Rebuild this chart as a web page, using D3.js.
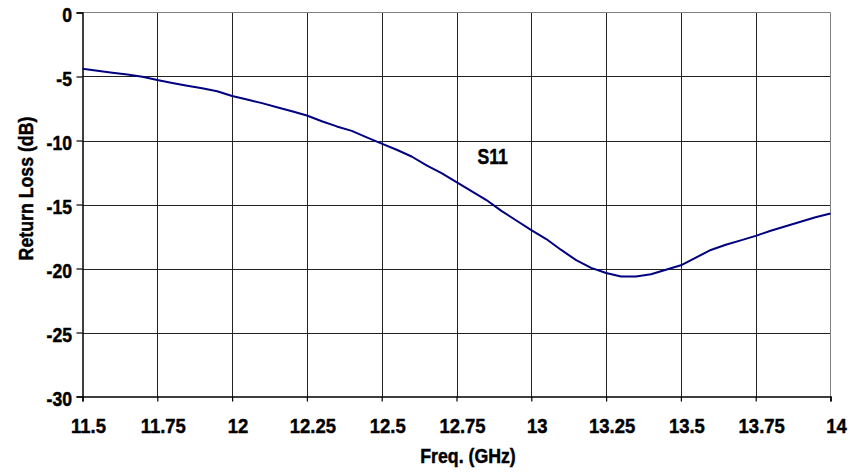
<!DOCTYPE html>
<html>
<head>
<meta charset="utf-8">
<script src="https://cdn.jsdelivr.net/npm/d3@7"></script>
<style>
  html, body { margin: 0; padding: 0; background: #fff; }
  svg { display: block; }
  text { font-family: "Liberation Sans", Arial, sans-serif; font-weight: bold; fill: #000; stroke: #000; stroke-width: 0.45px; }
</style>
</head>
<body>
<svg id="chart" width="853" height="473"></svg>
<script>
// ---- data ----
const freqGHz = [11.50, 11.55, 11.60, 11.65, 11.70, 11.75, 11.80, 11.85, 11.90, 11.95,
                 12.00, 12.05, 12.10, 12.15, 12.20, 12.25, 12.30, 12.35, 12.40, 12.45,
                 12.50, 12.55, 12.60, 12.65, 12.70, 12.75, 12.80, 12.85, 12.90, 12.95,
                 13.00, 13.05, 13.10, 13.15, 13.20, 13.25, 13.30, 13.35, 13.40, 13.45,
                 13.50, 13.55, 13.60, 13.65, 13.70, 13.75, 13.80, 13.85, 13.90, 13.95, 14.00];
const s11dB = [-4.40, -4.55, -4.70, -4.85, -5.02, -5.28, -5.50, -5.72, -5.92, -6.15,
               -6.52, -6.80, -7.08, -7.40, -7.72, -8.05, -8.50, -8.90, -9.25, -9.75,
               -10.25, -10.72, -11.25, -11.95, -12.55, -13.25, -13.95, -14.65, -15.50, -16.25,
               -17.00, -17.70, -18.55, -19.35, -19.95, -20.35, -20.62, -20.62, -20.45, -20.10,
               -19.75, -19.15, -18.55, -18.15, -17.80, -17.45, -17.05, -16.70, -16.35, -16.00, -15.70];
const xTicks = [11.5, 11.75, 12, 12.25, 12.5, 12.75, 13, 13.25, 13.5, 13.75, 14];
const xTickLabels = ["11.5", "11.75", "12", "12.25", "12.5", "12.75", "13", "13.25", "13.5", "13.75", "14"];
const yTicks = [0, -5, -10, -15, -20, -25, -30];
const yTickLabels = ["0", "-5", "-10", "-15", "-20", "-25", "-30"];
const seriesLabel = "S11";
const xTitle = "Freq. (GHz)";
const yTitle = "Return Loss (dB)";

// ---- layout ----
const svg = d3.select("#chart");
const L = 82.5, R = 830.5, T = 12.5, B = 396.5;
const x = d3.scaleLinear().domain([11.5, 14]).range([L, R]);
const y = d3.scaleLinear().domain([-30, 0]).range([B, T]);

// grid
const g = svg.append("g");
g.selectAll("line.vg").data(xTicks.slice(1, -1)).enter().append("line")
  .attr("x1", d => Math.round(x(d)) + 0.5).attr("x2", d => Math.round(x(d)) + 0.5)
  .attr("y1", T).attr("y2", B).attr("stroke", "#222").attr("stroke-width", 1);
g.selectAll("line.hg").data(yTicks.slice(1, -1)).enter().append("line")
  .attr("y1", d => Math.round(y(d)) + 0.5).attr("y2", d => Math.round(y(d)) + 0.5)
  .attr("x1", L).attr("x2", R).attr("stroke", "#222").attr("stroke-width", 1);
g.append("line").attr("x1", L).attr("x2", R).attr("y1", T).attr("y2", T).attr("stroke", "#808080");
g.append("line").attr("x1", R).attr("x2", R).attr("y1", T).attr("y2", B).attr("stroke", "#808080");

// axes (lines + ticks)
const xAxis = d3.axisBottom(x).tickValues(xTicks).tickFormat("").tickSize(5);
const yAxis = d3.axisLeft(y).tickValues(yTicks).tickFormat("").tickSize(6);
const gx = svg.append("g").attr("transform", `translate(0,${B})`).call(xAxis);
const gy = svg.append("g").attr("transform", `translate(${L},0)`).call(yAxis);
[gx, gy].forEach(a => {
  a.select(".domain").attr("stroke", "#000").attr("stroke-width", 1.5);
  a.selectAll(".tick line").attr("stroke", "#000").attr("stroke-width", 1.2);
  a.selectAll(".tick text").remove();
});

// tick labels (condensed look via horizontal scale)
svg.append("g").selectAll("text").data(xTicks).enter().append("text")
  .attr("transform", d => `translate(${x(d) + 6},432.5) scale(0.88,1)`)
  .attr("text-anchor", "middle").attr("font-size", 21)
  .text((d, i) => xTickLabels[i]);
svg.append("g").selectAll("text").data(yTicks).enter().append("text")
  .attr("transform", d => `translate(72,${y(d) + 9}) scale(0.88,1)`)
  .attr("text-anchor", "end").attr("font-size", 20)
  .text((d, i) => yTickLabels[i]);

// line
const line = d3.line().x((d, i) => x(freqGHz[i])).y(d => y(d));
svg.append("path").datum(s11dB).attr("d", line)
  .attr("fill", "none").attr("stroke", "#000080").attr("stroke-width", 2).attr("stroke-linejoin", "round");

// labels
svg.append("text").attr("transform", `translate(${x(12.82)},${y(-11.85)}) scale(0.8,1)`)
  .attr("font-size", 22).text(seriesLabel);
svg.append("text").attr("transform", "translate(468,463) scale(0.91,1)")
  .attr("text-anchor", "middle").attr("font-size", 19.5).text(xTitle);
svg.append("text").attr("transform", "translate(33,188.5) rotate(-90) scale(0.91,1)")
  .attr("text-anchor", "middle").attr("font-size", 19.5).text(yTitle);
</script>
</body>
</html>
